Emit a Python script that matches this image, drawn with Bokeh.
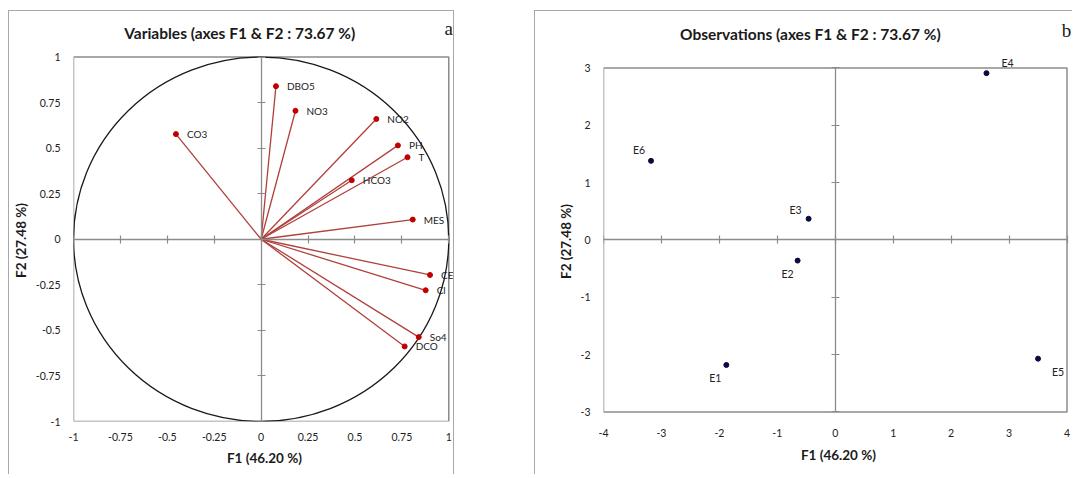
from bokeh.plotting import figure
from bokeh.models import ColumnDataSource, LinearAxis, FixedTicker, Label, Range1d, Title
from bokeh.layouts import row
from bokeh.embed import file_html
from bokeh.resources import INLINE
from bokeh.core.properties import value

# ---- data ----
var_names = ["DBO5", "NO3", "NO2", "PH", "T", "HCO3", "MES", "CO3", "CE", "Cl", "So4", "DCO"]
var_f1 = [0.079, 0.183, 0.614, 0.729, 0.780, 0.483, 0.808, -0.454, 0.900, 0.877, 0.840, 0.765]
var_f2 = [0.840, 0.705, 0.660, 0.515, 0.450, 0.324, 0.108, 0.577, -0.196, -0.280, -0.537, -0.588]

obs_names = ["E1", "E2", "E3", "E4", "E5", "E6"]
obs_f1 = [-1.88, -0.65, -0.46, 2.61, 3.50, -3.18]
obs_f2 = [-2.18, -0.36, 0.37, 2.91, -2.07, 1.38]

var_ticks = [-1, -0.75, -0.5, -0.25, 0, 0.25, 0.5, 0.75, 1]
var_tick_labels = ["-1", "-0.75", "-0.5", "-0.25", "0", "0.25", "0.5", "0.75", "1"]
obs_xticks = [-4, -3, -2, -1, 0, 1, 2, 3, 4]
obs_xtick_labels = ["-4", "-3", "-2", "-1", "0", "1", "2", "3", "4"]
obs_yticks = [-3, -2, -1, 0, 1, 2, 3]
obs_ytick_labels = ["-3", "-2", "-1", "0", "1", "2", "3"]

title_a = "Variables (axes F1 & F2 : 73.67 %)"
title_b = "Observations (axes F1 & F2 : 73.67 %)"
xlabel = "F1 (46.20 %)"
ylabel = "F2 (27.48 %)"

# label placement (pixels)
obs_dx = [-11, -10, -13, 21, 20, -12]
obs_dy = [13, 13, -9, -10, 13, -11]

FONT = "Lato"
GRAY = "#8c8c8c"
PANEL = "#a8a8a8"
H = 464


def style_fig(p, xticks, xlabels, yticks, ylabels, xstand, ystand, xlab_stand, ylab_offset,
              ybounds="auto", xbounds="auto"):
    p.grid.visible = False
    p.background_fill_color = "white"
    p.border_fill_color = "white"
    p.outline_line_color = None
    mx = p.below[0]
    my = p.left[0]
    for ax, t, l, st in ((mx, xticks, xlabels, xstand), (my, yticks, ylabels, ystand)):
        ax.ticker = FixedTicker(ticks=t)
        ax.major_label_overrides = dict(zip(t, l))
        ax.axis_line_color = None
        ax.major_tick_line_color = None
        ax.minor_tick_line_color = None
        ax.major_label_text_font = FONT
        ax.major_label_text_font_size = "10.5px"
        ax.major_label_text_color = "#222222"
        ax.major_label_standoff = st
    mx.axis_label = xlabel
    mx.axis_label_text_font = FONT
    mx.axis_label_text_font_size = "13.5px"
    mx.axis_label_text_font_style = "bold"
    mx.axis_label_text_color = "#1a1a1a"
    mx.axis_label_standoff = xlab_stand
    ix = LinearAxis(fixed_location=0, ticker=FixedTicker(ticks=xticks), bounds=xbounds,
                    major_tick_in=4, major_tick_out=4, minor_tick_line_color=None,
                    axis_line_color=GRAY, major_tick_line_color=GRAY,
                    axis_line_width=1.3, major_tick_line_width=1.2,
                    major_label_text_font_size="0px", major_label_standoff=0)
    iy = LinearAxis(fixed_location=0, ticker=FixedTicker(ticks=yticks), bounds=ybounds,
                    major_tick_in=4, major_tick_out=4, minor_tick_line_color=None,
                    axis_line_color=GRAY, major_tick_line_color=GRAY,
                    axis_line_width=1.3, major_tick_line_width=1.2,
                    major_label_text_font_size="0px", major_label_standoff=0)
    p.add_layout(ix, "below")
    p.add_layout(iy, "left")
    yt = Title(text=ylabel, align="left", vertical_align="middle", offset=ylab_offset,
               standoff=5, text_font=FONT, text_font_size="13.5px", text_font_style="bold",
               text_color="#1a1a1a")
    p.add_layout(yt, "left")
    # plot box along the tick extent
    p.quad(left=min(xticks), right=max(xticks), bottom=min(yticks), top=max(yticks),
           fill_color=None, line_color=GRAY, line_width=1.5)


# ---- panel a ----  (frame reaches the panel's top and right edges)
p1 = figure(width=446, height=H, x_range=Range1d(-1, 1.0359), y_range=Range1d(-1, 1.2497),
            output_backend="svg", toolbar_location=None, title=None,
            min_border_left=63, min_border_right=0, min_border_top=0, min_border_bottom=54)
style_fig(p1, var_ticks, var_tick_labels, var_ticks, var_tick_labels, 5, 7, 6, 143.5,
          ybounds=(-1, 1), xbounds=(-1, 1))

p1.ellipse(x=0, y=0, width=2, height=2, fill_color=None, line_color="#1a1a1a", line_width=1.3)
src_v = ColumnDataSource(dict(name=var_names, x=var_f1, y=var_f2,
                              x0=[0] * len(var_f1), y0=[0] * len(var_f1)))
p1.segment(x0="x0", y0="y0", x1="x", y1="y", source=src_v, line_color="#b0403c", line_width=1.3)
p1.scatter(x="x", y="y", source=src_v, size=5, fill_color="#c00000", line_color="#c00000")
p1.text(x="x", y="y", text="name", source=src_v, x_offset=11, text_baseline="middle",
        text_font=value(FONT), text_font_size="10px", text_color="#222222")

p1.add_layout(Label(x=-0.114, y=1.132, text=title_a, text_align="center", text_baseline="middle",
                    text_font=FONT, text_font_size="15.5px", text_font_style="bold",
                    text_color="#1a1a1a"))
p1.add_layout(Label(x=1.0, y=1.159, text="a", text_align="center", text_baseline="middle",
                    text_font="Liberation Serif", text_font_size="19px", text_color="#1a1a1a"))
p1.styles = {"border-top": f"1.5px solid {PANEL}", "border-left": f"1.5px solid {PANEL}",
             "border-right": f"1.5px solid {PANEL}"}

# ---- panel b ----
p2 = figure(width=538, height=H, x_range=Range1d(-4, 4.112), y_range=Range1d(-3.166, 3.985),
            output_backend="svg", toolbar_location=None, title=None,
            min_border_left=68, min_border_right=0, min_border_top=0, min_border_bottom=54)
style_fig(p2, obs_xticks, obs_xtick_labels, obs_yticks, obs_ytick_labels, 1, 7, 7, 142.5,
          ybounds=(min(obs_yticks), max(obs_yticks)), xbounds=(min(obs_xticks), max(obs_xticks)))

src_o = ColumnDataSource(dict(name=obs_names, x=obs_f1, y=obs_f2, dx=obs_dx, dy=obs_dy))
p2.scatter(x="x", y="y", source=src_o, size=5, fill_color="#0a0a3c", line_color="#0a0a3c")
p2.text(x="x", y="y", text="name", source=src_o, x_offset="dx", y_offset="dy",
        text_align="center", text_baseline="middle",
        text_font=value(FONT), text_font_size="10.5px", text_color="#222222")

p2.add_layout(Label(x=-0.43, y=3.59, text=title_b, text_align="center", text_baseline="middle",
                    text_font=FONT, text_font_size="15.5px", text_font_style="bold",
                    text_color="#1a1a1a"))
p2.add_layout(Label(x=3.99, y=3.66, text="b", text_align="center", text_baseline="middle",
                    text_font="Liberation Serif", text_font_size="19px", text_color="#1a1a1a"))
p2.styles = {"border-top": f"1.5px solid {PANEL}", "border-left": f"1.5px solid {PANEL}"}

layout = row(p1, p2, spacing=80, styles={"margin-left": "8px", "margin-top": "10px"})
open("out.html", "w").write(file_html(layout, INLINE))
